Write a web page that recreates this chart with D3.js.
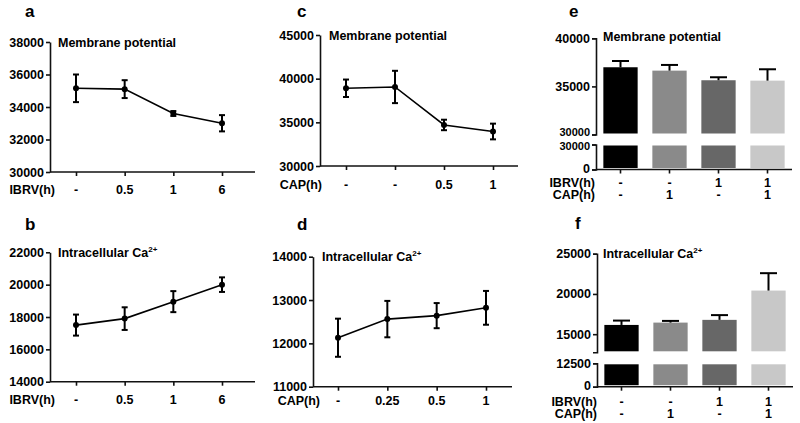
<!DOCTYPE html>
<html><head><meta charset="utf-8">
<script src="https://cdn.jsdelivr.net/npm/d3@7"></script>
<style>
html,body{margin:0;padding:0;background:#fff;}
svg text{font-family:"Liberation Sans",Arial,sans-serif;font-weight:bold;fill:#000;}
</style></head>
<body><svg id="c" width="800" height="423"></svg>
<script>
// ---- data ----
const ibrvTimeLabels = ["-", "0.5", "1", "6"];
const capTimeLabelsMem = ["-", "-", "0.5", "1"];
const capTimeLabelsCa = ["-", "0.25", "0.5", "1"];
const memIBRV = [35150, 35100, 33600, 33000];
const memIBRVErr = [850, 550, 150, 500];
const memCAP = [38900, 39050, 34700, 33950];
const memCAPErr = [1000, 1850, 600, 900];
const caIBRV = [17500, 17900, 18950, 20000];
const caIBRVErr = [650, 700, 650, 450];
const caCAP = [12130, 12560, 12640, 12820];
const caCAPErr = [440, 420, 290, 390];
const comboIBRV = ["-", "-", "1", "1"];
const comboCAP = ["-", "1", "-", "1"];
const memCombo = [36990, 36640, 35640, 35600];
const memComboErr = [650, 590, 310, 1180];
const caCombo = [16150, 16440, 16780, 20420];
const caComboErr = [540, 210, 590, 2160];
const barColors = ["#000000", "#8a8a8a", "#676767", "#c8c8c8"];
const memTicksA = [30000, 32000, 34000, 36000, 38000];
const memTicksC = [30000, 35000, 40000, 45000];
const caTicksB = [14000, 16000, 18000, 20000, 22000];
const caTicksD = [11000, 12000, 13000, 14000];

const svg = d3.select("#c");
const FS = 12.5;

function title(g, x, y, kind) {
  const t = g.append("text").attr("x", x).attr("y", y).attr("font-size", FS);
  if (kind === "mem") t.text("Membrane potential");
  else {
    t.append("tspan").text("Intracellular Ca");
    t.append("tspan").attr("font-size", 8).attr("dy", -5).text("2+");
  }
}
function letter(x, y, s) {
  svg.append("text").attr("x", x).attr("y", y).attr("font-size", 17).text(s);
}
function styleAxis(g) {
  g.selectAll("path,line").attr("stroke", "#111").attr("stroke-width", 1.6);
  g.selectAll("text").attr("font-size", FS).attr("fill", "#000")
    .attr("font-family", '"Liberation Sans",Arial,sans-serif').attr("font-weight", "bold");
}

function linePanel(o) {
  const g = svg.append("g");
  const y = d3.scaleLinear().domain(o.domain).range([o.yBottom, o.yTop]);
  const x = d3.scalePoint().domain(d3.range(o.values.length)).range(o.xRange);
  const ya = g.append("g").attr("transform", `translate(${o.axisX},0)`)
    .call(d3.axisLeft(y).tickValues(o.ticks).tickSize(4).tickSizeOuter(0).tickPadding(2).tickFormat(d3.format("d")));
  styleAxis(ya);
  g.append("line").attr("x1", o.axisX).attr("x2", o.xEnd).attr("y1", o.yBottom).attr("y2", o.yBottom)
    .attr("stroke", "#111").attr("stroke-width", 1.6);
  const xa = g.append("g").attr("transform", `translate(0,${o.yBottom})`)
    .call(d3.axisBottom(x).tickSize(4).tickSizeOuter(0).tickFormat(() => ""));
  xa.select(".domain").remove();
  styleAxis(xa);
  o.labels.forEach((l, i) => {
    g.append("text").attr("x", x(i)).attr("y", o.labelY).attr("text-anchor", "middle")
      .attr("font-size", FS).text(l);
  });
  g.append("text").attr("x", o.rowLabelX).attr("y", o.labelY).attr("text-anchor", "end")
    .attr("font-size", FS).text(o.rowLabel);
  const line = d3.line().x((d, i) => x(i)).y(d => y(d));
  g.append("path").datum(o.values).attr("d", line).attr("fill", "none")
    .attr("stroke", "#000").attr("stroke-width", 1.6);
  o.values.forEach((v, i) => {
    const cx = x(i), hi = y(v + o.errs[i]), lo = y(v - o.errs[i]);
    g.append("line").attr("x1", cx).attr("x2", cx).attr("y1", hi).attr("y2", lo)
      .attr("stroke", "#000").attr("stroke-width", 2);
    [hi, lo].forEach(yy => g.append("line").attr("x1", cx - 3).attr("x2", cx + 3)
      .attr("y1", yy).attr("y2", yy).attr("stroke", "#000").attr("stroke-width", 2));
    g.append("circle").attr("cx", cx).attr("cy", y(v)).attr("r", 3).attr("fill", "#000");
  });
  title(g, o.titleX, o.titleY, o.kind);
}

function barPanel(o) {
  const g = svg.append("g");
  const yU = d3.scaleLinear().domain(o.upDomain).range([o.upBottom, o.upTop]);
  const yL = d3.scaleLinear().domain(o.lowDomain).range([o.lowBottom, o.lowTop]);
  const x = d3.scaleBand().domain(d3.range(o.values.length)).range([o.axisX, o.xEnd])
    .paddingInner(0.3).paddingOuter(0.15);
  const au = g.append("g").attr("transform", `translate(${o.axisX},0)`)
    .call(d3.axisLeft(yU).tickValues(o.upTicks).tickSize(4).tickSizeOuter(4).tickPadding(2).tickFormat(d3.format("d")));
  styleAxis(au);
  const al = g.append("g").attr("transform", `translate(${o.axisX},0)`)
    .call(d3.axisLeft(yL).tickValues(o.lowTicks).tickSize(4).tickSizeOuter(4).tickPadding(2).tickFormat(d3.format("d")));
  styleAxis(al);
  // labels at the break: slightly smaller and nudged apart
  if (o.breakLabels) {
    au.selectAll(".tick").filter(d => d === o.upDomain[0]).select("text")
      .attr("font-size", 11).attr("dy", "0.1em");
    al.selectAll(".tick").filter(d => d === o.lowDomain[1]).select("text")
      .attr("font-size", 11).attr("dy", "0.45em");
  }
  al.selectAll(".tick").filter(d => d === 0).select("text").attr("dy", "0.25em");
  g.append("line").attr("x1", o.axisX).attr("x2", o.xEnd).attr("y1", o.lowBottom).attr("y2", o.lowBottom)
    .attr("stroke", "#111").attr("stroke-width", 1.6);
  const xa = g.append("g").attr("transform", `translate(0,${o.lowBottom})`)
    .call(d3.axisBottom(x).tickSize(4).tickSizeOuter(0).tickFormat(() => ""));
  xa.select(".domain").remove();
  styleAxis(xa);
  o.values.forEach((v, i) => {
    const bx = x(i), bw = x.bandwidth();
    g.append("rect").attr("x", bx).attr("width", bw).attr("y", yU(v))
      .attr("height", o.upBottom - 1 - yU(v)).attr("fill", barColors[i]);
    g.append("rect").attr("x", bx).attr("width", bw).attr("y", o.lowTop + 1)
      .attr("height", o.lowBottom - 1.5 - o.lowTop - 1).attr("fill", barColors[i]);
    const cx = bx + bw / 2, top = yU(v + o.errs[i]);
    g.append("line").attr("x1", cx).attr("x2", cx).attr("y1", yU(v)).attr("y2", top)
      .attr("stroke", "#000").attr("stroke-width", 2);
    g.append("line").attr("x1", cx - 8.5).attr("x2", cx + 8.5).attr("y1", top).attr("y2", top)
      .attr("stroke", "#000").attr("stroke-width", 2);
  });
  [[o.ibrv, o.row1Y, "IBRV(h)"], [o.cap, o.row2Y, "CAP(h)"]].forEach(([labs, yy, name]) => {
    labs.forEach((l, i) => g.append("text").attr("x", x(i) + x.bandwidth() / 2).attr("y", yy)
      .attr("text-anchor", "middle").attr("font-size", FS).text(l));
    g.append("text").attr("x", o.rowLabelX).attr("y", yy).attr("text-anchor", "end")
      .attr("font-size", FS).text(name);
  });
  title(g, o.titleX, o.titleY, o.kind);
}

letter(25, 17, "a"); letter(297, 17, "c"); letter(569, 17, "e");
letter(25, 230, "b"); letter(297, 230, "d"); letter(575, 229, "f");

linePanel({axisX: 50, xEnd: 255, yTop: 42, yBottom: 172, xRange: [76, 222],
  domain: [30000, 38000], ticks: memTicksA, values: memIBRV, errs: memIBRVErr,
  labels: ibrvTimeLabels, labelY: 194, rowLabel: "IBRV(h)", rowLabelX: 55,
  titleX: 58, titleY: 46.5, kind: "mem"});
linePanel({axisX: 320, xEnd: 518, yTop: 35, yBottom: 166, xRange: [346, 493],
  domain: [30000, 45000], ticks: memTicksC, values: memCAP, errs: memCAPErr,
  labels: capTimeLabelsMem, labelY: 188.5, rowLabel: "CAP(h)", rowLabelX: 322,
  titleX: 329, titleY: 39.5, kind: "mem"});
linePanel({axisX: 50, xEnd: 255, yTop: 252.3, yBottom: 381.7, xRange: [76, 222],
  domain: [14000, 22000], ticks: caTicksB, values: caIBRV, errs: caIBRVErr,
  labels: ibrvTimeLabels, labelY: 403.5, rowLabel: "IBRV(h)", rowLabelX: 55,
  titleX: 58, titleY: 256.5, kind: "ca"});
linePanel({axisX: 313, xEnd: 512, yTop: 256.7, yBottom: 386.7, xRange: [338, 486],
  domain: [11000, 14000], ticks: caTicksD, values: caCAP, errs: caCAPErr,
  labels: capTimeLabelsCa, labelY: 404.5, rowLabel: "CAP(h)", rowLabelX: 320,
  titleX: 322, titleY: 261, kind: "ca"});

barPanel({axisX: 596, xEnd: 792, upDomain: [30000, 40000], upBottom: 134.5, upTop: 38.3,
  lowDomain: [0, 30000], lowBottom: 169.5, lowTop: 144.5, breakLabels: true,
  upTicks: [30000, 35000, 40000], lowTicks: [0, 30000],
  values: memCombo, errs: memComboErr, ibrv: comboIBRV, cap: comboCAP,
  row1Y: 186.5, row2Y: 199, rowLabelX: 595, titleX: 603, titleY: 40.5, kind: "mem"});
barPanel({axisX: 597, xEnd: 793, upDomain: [12750, 25000], upBottom: 352.3, upTop: 253.7,
  lowDomain: [0, 12500], lowBottom: 386.7, lowTop: 363.3, breakLabels: false,
  upTicks: [15000, 20000, 25000], lowTicks: [0, 12500],
  values: caCombo, errs: caComboErr, ibrv: comboIBRV, cap: comboCAP,
  row1Y: 405.5, row2Y: 418, rowLabelX: 597, titleX: 603, titleY: 257.5, kind: "ca"});
</script></body></html>
